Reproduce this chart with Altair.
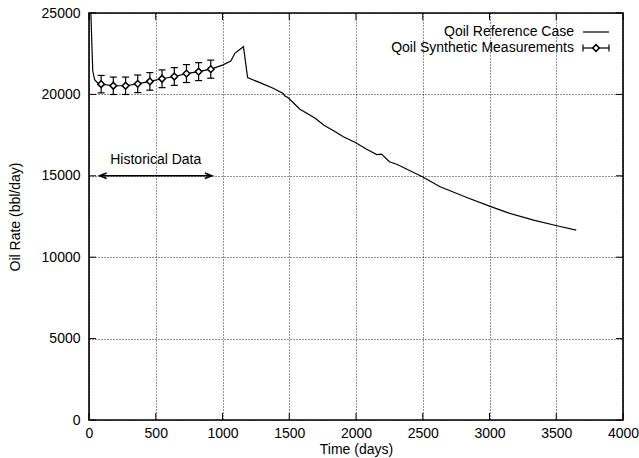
import altair as alt
import pandas as pd

# ---------------- data ----------------
line_days = [14, 28, 42, 65, 91, 182, 274, 365, 456, 547, 639, 730, 821, 912,
             1000, 1062, 1094, 1157, 1188, 1280, 1375, 1455, 1465, 1492, 1580,
             1692, 1760, 1845, 1905, 1992, 2080, 2155, 2192, 2250, 2305, 2497,
             2630, 2830, 3000, 3130, 3330, 3505, 3650]
line_rate = [25000, 21450, 20900, 20700, 20630, 20530, 20530, 20650, 20800,
             20960, 21100, 21280, 21400, 21550, 21800, 22050, 22540, 22930,
             21030, 20720, 20390, 20060, 19920, 19790, 19090, 18550, 18100,
             17710, 17400, 17060, 16630, 16300, 16335, 15865, 15710, 14940,
             14330, 13670, 13140, 12750, 12275, 11930, 11660]

meas_days = [91, 182, 274, 365, 456, 547, 639, 730, 821, 912]
meas_rate = [20630, 20530, 20530, 20650, 20800, 20960, 21100, 21280, 21400, 21550]
meas_err = [535, 535, 535, 540, 540, 545, 545, 550, 550, 555]

x_ticks = [0, 500, 1000, 1500, 2000, 2500, 3000, 3500, 4000]
y_ticks = [0, 5000, 10000, 15000, 20000, 25000]

legend_labels = ["Qoil Reference Case", "Qoil Synthetic Measurements"]
annot_text = ["Historical Data"]
annot_pos = [500, 16000]
arrow_x = [80, 920]
arrow_y = 15000

# ---------------- layout ----------------
W, H = 534, 407
FONT = "Liberation Sans"
FS = 14
TICK = 7

xs = alt.Scale(domain=[0, 4000], nice=False, zero=False)
ys = alt.Scale(domain=[0, 25000], nice=False, zero=False)

line_df = pd.DataFrame({"day": line_days, "rate": line_rate})
meas_df = pd.DataFrame({
    "day": meas_days,
    "rate": meas_rate,
    "lo": [r - e for r, e in zip(meas_rate, meas_err)],
    "hi": [r + e for r, e in zip(meas_rate, meas_err)],
})
xt_df = pd.DataFrame({"day": x_ticks})
yt_df = pd.DataFrame({"rate": y_ticks})

x_axis = alt.Axis(values=x_ticks, format="d", title="Time (days)", grid=True,
                  gridDash=[1, 2], gridColor="#000000", gridWidth=1,
                  gridOpacity=0.85, ticks=False, domain=False,
                  labelFont=FONT, labelFontSize=FS, labelColor="#000",
                  labelPadding=6, labelFlush=False, labelOverlap=False,
                  titleFont=FONT, titleFontSize=FS, titleFontWeight="normal",
                  titleColor="#000", titleY=29, titleBaseline="middle",
                  titleX=W / 2, titleAlign="center")
y_axis = alt.Axis(values=y_ticks, format="d", title="Oil Rate (bbl/day)", grid=True,
                  gridDash=[1, 2], gridColor="#000000", gridWidth=1,
                  gridOpacity=0.85, ticks=False, domain=False,
                  labelFont=FONT, labelFontSize=FS, labelColor="#000",
                  labelPadding=9, labelFlush=False, labelOverlap=False,
                  titleFont=FONT, titleFontSize=FS, titleFontWeight="normal",
                  titleColor="#000", titleAngle=270, titleX=-74,
                  titleY=H / 2, titleAlign="center", titleBaseline="middle")


def X(field):
    return alt.X(field, scale=xs, axis=x_axis)


def Y(field):
    return alt.Y(field, scale=ys, axis=y_axis)


line = alt.Chart(line_df).mark_line(color="black", strokeWidth=1.2, clip=True).encode(
    x=X("day:Q"), y=Y("rate:Q"), order="day:Q",
)

err = alt.Chart(meas_df).mark_rule(color="black", strokeWidth=1.2).encode(
    x=X("day:Q"), y=Y("lo:Q"), y2="hi:Q",
)
cap_lo = alt.Chart(meas_df).mark_point(shape="M-1,0L1,0", size=49, color="black",
                                       strokeWidth=1.2, filled=False, opacity=1).encode(
    x=X("day:Q"), y=Y("lo:Q"),
)
cap_hi = alt.Chart(meas_df).mark_point(shape="M-1,0L1,0", size=49, color="black",
                                       strokeWidth=1.2, filled=False, opacity=1).encode(
    x=X("day:Q"), y=Y("hi:Q"),
)
pts = alt.Chart(meas_df).mark_point(shape="diamond", size=45, color="black",
                                    fill="white", filled=False, strokeWidth=1.5,
                                    opacity=1, fillOpacity=1).encode(
    x=X("day:Q"), y=Y("rate:Q"),
)

# inward ticks on all four sides
tb = alt.Chart(xt_df).mark_rule(color="black", strokeWidth=1).encode(
    x=X("day:Q"), y=alt.value(H), y2=alt.value(H - TICK))
tt = alt.Chart(xt_df).mark_rule(color="black", strokeWidth=1).encode(
    x=X("day:Q"), y=alt.value(0), y2=alt.value(TICK))
tl = alt.Chart(yt_df).mark_rule(color="black", strokeWidth=1).encode(
    y=Y("rate:Q"), x=alt.value(0), x2=alt.value(TICK))
tr = alt.Chart(yt_df).mark_rule(color="black", strokeWidth=1).encode(
    y=Y("rate:Q"), x=alt.value(W), x2=alt.value(W - TICK))

# annotation
ann_df = pd.DataFrame({"day": [annot_pos[0]], "rate": [annot_pos[1]], "t": annot_text})
ann = alt.Chart(ann_df).mark_text(font=FONT, fontSize=FS, color="black",
                                  align="center", baseline="middle").encode(
    x=X("day:Q"), y=Y("rate:Q"), text="t:N",
)
arr_df = pd.DataFrame({"day": [arrow_x[0]], "day2": [arrow_x[1]], "rate": [arrow_y]})
arrow = alt.Chart(arr_df).mark_rule(color="black", strokeWidth=1.6).encode(
    x=X("day:Q"), x2="day2:Q", y=Y("rate:Q"),
)
head_l = alt.Chart(pd.DataFrame({"day": [arrow_x[0]], "rate": [arrow_y]})).mark_point(
    shape="M1,-0.4L0,0L1,0.4", size=196, color="black", filled=False,
    strokeWidth=1.6, opacity=1).encode(x=X("day:Q"), y=Y("rate:Q"))
head_r = alt.Chart(pd.DataFrame({"day": [arrow_x[1]], "rate": [arrow_y]})).mark_point(
    shape="M-1,-0.4L0,0L-1,0.4", size=196, color="black", filled=False,
    strokeWidth=1.6, opacity=1).encode(x=X("day:Q"), y=Y("rate:Q"))

# legend (drawn by hand, top right)
LX_TXT, LX0, LX1 = 485, 494, 520
LY1, LY2 = 19, 35
leg_t1 = alt.Chart(pd.DataFrame({"t": [legend_labels[0]]})).mark_text(
    font=FONT, fontSize=FS, color="black", align="right", baseline="middle").encode(
    x=alt.value(LX_TXT), y=alt.value(LY1), text="t:N")
leg_t2 = alt.Chart(pd.DataFrame({"t": [legend_labels[1]]})).mark_text(
    font=FONT, fontSize=FS, color="black", align="right", baseline="middle").encode(
    x=alt.value(LX_TXT), y=alt.value(LY2), text="t:N")
leg_l1 = alt.Chart(pd.DataFrame({"a": [0]})).mark_rule(color="black", strokeWidth=1.2).encode(
    x=alt.value(LX0), x2=alt.value(LX1), y=alt.value(LY1))
leg_l2 = alt.Chart(pd.DataFrame({"a": [0]})).mark_rule(color="black", strokeWidth=1.2).encode(
    x=alt.value(LX0), x2=alt.value(LX1), y=alt.value(LY2))
leg_c1 = alt.Chart(pd.DataFrame({"a": [0]})).mark_rule(color="black", strokeWidth=1.2).encode(
    x=alt.value(LX0), y=alt.value(LY2 - 3.5), y2=alt.value(LY2 + 3.5))
leg_c2 = alt.Chart(pd.DataFrame({"a": [0]})).mark_rule(color="black", strokeWidth=1.2).encode(
    x=alt.value(LX1), y=alt.value(LY2 - 3.5), y2=alt.value(LY2 + 3.5))
leg_p = alt.Chart(pd.DataFrame({"a": [0]})).mark_point(
    shape="diamond", size=45, color="black", fill="white", filled=False,
    strokeWidth=1.5, opacity=1).encode(
    x=alt.value((LX0 + LX1) / 2), y=alt.value(LY2))

chart = alt.layer(
    line, tb, tt, tl, tr, err, cap_lo, cap_hi, pts, arrow, head_l, head_r, ann,
    leg_t1, leg_t2, leg_l1, leg_l2, leg_c1, leg_c2, leg_p,
).properties(
    width=W, height=H,
    autosize=alt.AutoSizeParams(type="none"),
    padding={"left": 89, "top": 13, "right": 16, "bottom": 38},
    background="white",
).configure_view(
    stroke="black", strokeWidth=1.6,
)

chart.save("out.html", embed_options={"renderer": "svg", "actions": False})
